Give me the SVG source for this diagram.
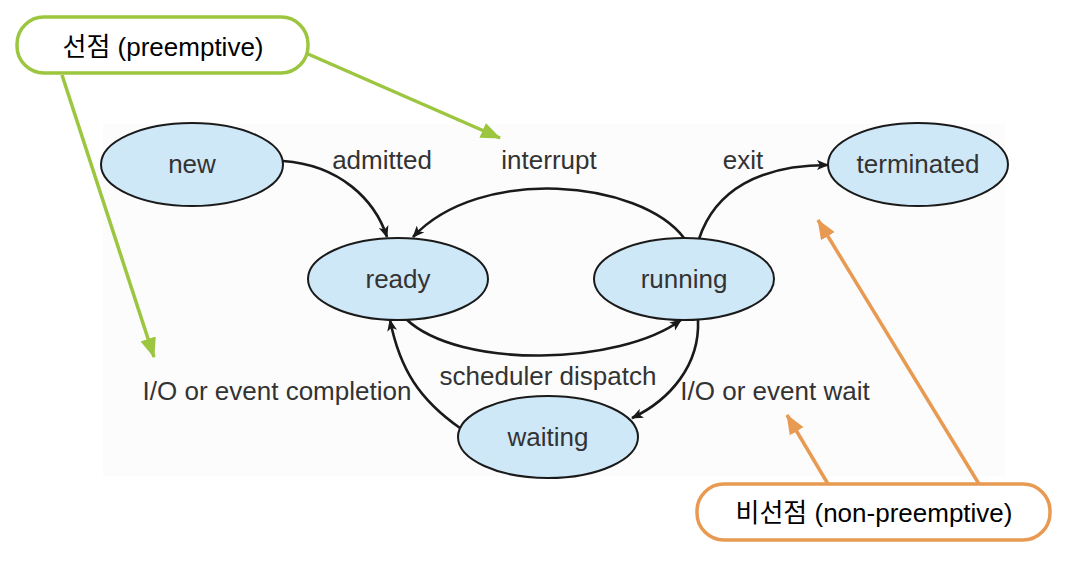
<svg xmlns="http://www.w3.org/2000/svg" width="1070" height="564" viewBox="0 0 1070 564">
<style>
.node ellipse{fill:#cfe8f7;stroke:#1a1a1a;stroke-width:2}
.lbl{font-family:"Liberation Sans",Arial,sans-serif;font-size:26px;fill:#333;text-anchor:middle}
.conn{fill:none;stroke:#1a1a1a;stroke-width:2.6}
.callout-text{font-family:"Liberation Sans","Noto Sans CJK KR",sans-serif;font-size:26px;fill:#000;text-anchor:middle}
.g{stroke:#9cc63f;stroke-width:3.5;fill:none}
.o{stroke:#e89a52;stroke-width:3.5;fill:none}
</style>
<defs>
<marker id="ah" viewBox="0 0 12 10" refX="11" refY="5" markerWidth="12" markerHeight="10" markerUnits="userSpaceOnUse" orient="auto">
<path d="M0,0 L12,5 L0,10 L3,5 z" fill="#1a1a1a"/>
</marker>
<marker id="ag" viewBox="0 0 20 16" refX="19" refY="8" markerWidth="20" markerHeight="16" markerUnits="userSpaceOnUse" orient="auto">
<path d="M0,0 L20,8 L0,16 z" fill="#9cc63f"/>
</marker>
<marker id="ao" viewBox="0 0 20 16" refX="19" refY="8" markerWidth="20" markerHeight="16" markerUnits="userSpaceOnUse" orient="auto">
<path d="M0,0 L20,8 L0,16 z" fill="#e89a52"/>
</marker>
</defs>
<rect width="1070" height="564" fill="#ffffff"/>
<rect x="103" y="124" width="902" height="352" fill="#fcfcfc"/>

<g id="connectors">
<path class="conn" marker-end="url(#ah)" d="M283,161 C340,165 375,200 387,237"/>
<path class="conn" marker-end="url(#ah)" d="M684,238 C640,180 480,165 413,237"/>
<path class="conn" marker-end="url(#ah)" d="M699,239 C715,190 760,165 828,165"/>
<path class="conn" marker-end="url(#ah)" d="M406,319 C460,370 620,365 681,320"/>
<path class="conn" marker-end="url(#ah)" d="M698,320 C700,365 670,400 632,418"/>
<path class="conn" marker-end="url(#ah)" d="M460,428 C420,400 400,370 390,320"/>
</g>

<g id="node-new" class="node"><ellipse cx="192" cy="164.5" rx="91" ry="41.5"/><text class="lbl" x="192" y="173">new</text></g>
<g id="node-ready" class="node"><ellipse cx="398" cy="279" rx="90" ry="41"/><text class="lbl" x="398" y="288">ready</text></g>
<g id="node-running" class="node"><ellipse cx="684" cy="279" rx="90" ry="41"/><text class="lbl" x="684" y="288">running</text></g>
<g id="node-terminated" class="node"><ellipse cx="918" cy="164.5" rx="90" ry="41.5"/><text class="lbl" x="918" y="173">terminated</text></g>
<g id="node-waiting" class="node"><ellipse cx="548" cy="437" rx="90" ry="41"/><text class="lbl" x="548" y="446">waiting</text></g>

<g id="edge-labels">
<text class="lbl" x="382" y="169">admitted</text>
<text class="lbl" x="549" y="169">interrupt</text>
<text class="lbl" x="743" y="169">exit</text>
<text class="lbl" x="548" y="385">scheduler dispatch</text>
<text class="lbl" x="277" y="400">I/O or event completion</text>
<text class="lbl" x="775" y="400">I/O or event wait</text>
</g>

<g id="callout-preemptive">
<line class="g" x1="62" y1="75" x2="154" y2="357" marker-end="url(#ag)"/>
<line class="g" x1="308" y1="54" x2="500" y2="138" marker-end="url(#ag)"/>
<rect x="17" y="17" width="291" height="56" rx="27" fill="#fff" class="g"/>
<text class="callout-text" x="163" y="56">선점 (preemptive)</text>
</g>

<g id="callout-nonpreemptive">
<line class="o" x1="828" y1="484" x2="787" y2="415" marker-end="url(#ao)"/>
<line class="o" x1="979" y1="484" x2="818" y2="220" marker-end="url(#ao)"/>
<rect x="697" y="484" width="353" height="56" rx="27" fill="#fff" class="o"/>
<text class="callout-text" x="874" y="522">비선점 (non-preemptive)</text>
</g>
</svg>
